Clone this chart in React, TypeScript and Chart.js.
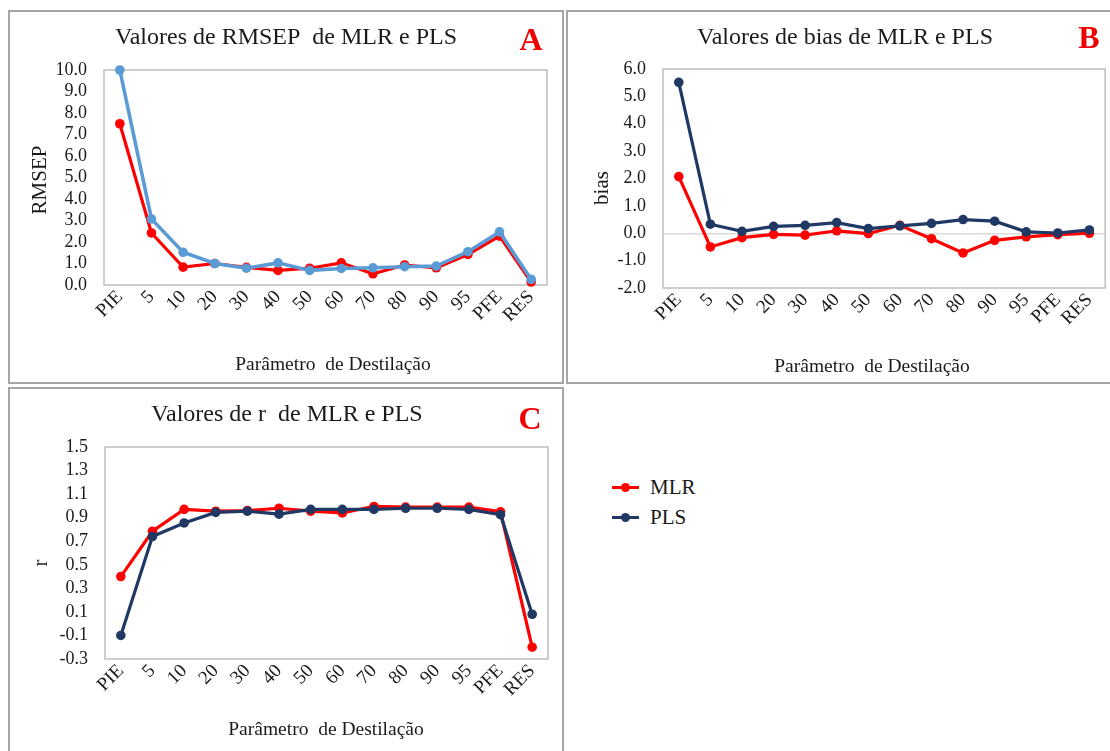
import React, { useEffect, useRef } from 'react';
import { Chart, registerables } from 'chart.js';

Chart.register(...registerables);

// Distillation parameters on the category axis
const CATEGORIES = ['PIE', '5', '10', '20', '30', '40', '50', '60', '70', '80', '90', '95', 'PFE', 'RES'];

// RMSEP per parameter
const RMSEP_MLR = [7.5, 2.42, 0.83, 1.0, 0.82, 0.68, 0.78, 1.03, 0.52, 0.93, 0.8, 1.42, 2.27, 0.14];
const RMSEP_PLS = [10.0, 3.07, 1.52, 1.0, 0.78, 1.03, 0.68, 0.77, 0.8, 0.85, 0.88, 1.55, 2.47, 0.26];

// bias per parameter
const BIAS_MLR = [2.07, -0.5, -0.16, -0.04, -0.07, 0.09, -0.01, 0.29, -0.2, -0.72, -0.26, -0.13, -0.05, 0.0];
const BIAS_PLS = [5.51, 0.33, 0.07, 0.25, 0.29, 0.39, 0.17, 0.27, 0.36, 0.5, 0.44, 0.05, 0.01, 0.12];

// correlation coefficient r per parameter
const R_MLR = [0.4, 0.785, 0.97, 0.955, 0.96, 0.98, 0.955, 0.94, 0.995, 0.99, 0.99, 0.99, 0.95, -0.2];
const R_PLS = [-0.1, 0.74, 0.855, 0.945, 0.955, 0.93, 0.97, 0.97, 0.97, 0.98, 0.98, 0.97, 0.925, 0.08];

// y-axis tick values
const RMSEP_TICKS = [0, 1, 2, 3, 4, 5, 6, 7, 8, 9, 10];
const BIAS_TICKS = [-2, -1, 0, 1, 2, 3, 4, 5, 6];
const R_TICKS = [-0.3, -0.1, 0.1, 0.3, 0.5, 0.7, 0.9, 1.1, 1.3, 1.5];

const SERIES_LABELS = ['MLR', 'PLS'];

const SERIF = '"Liberation Serif", "Times New Roman", serif';
const TEXT = '#1a1a1a';
const RED = '#ff0000';
const LIGHT_BLUE = '#5b9bd5';
const NAVY = '#203864';

// Draws the plot-area frame, chart title, panel letter and axis titles.
const panelDecor = {
  id: 'panelDecor',
  beforeDatasetsDraw(chart: any) {
    const { ctx, chartArea: a } = chart;
    ctx.save();
    ctx.strokeStyle = '#bfbfbf';
    ctx.lineWidth = 1.5;
    ctx.strokeRect(a.left, a.top, a.right - a.left, a.bottom - a.top);
    ctx.restore();
  },
  afterDraw(chart: any, _args: any, opts: any) {
    const { ctx } = chart;
    ctx.save();
    ctx.textAlign = 'center';
    ctx.textBaseline = 'middle';
    ctx.fillStyle = TEXT;
    ctx.font = `24px ${SERIF}`;
    ctx.fillText(opts.title, opts.titleX, opts.titleY);
    ctx.fillStyle = '#ee0000';
    ctx.font = `bold 32px ${SERIF}`;
    ctx.fillText(opts.letter, opts.letterX, opts.letterY);
    ctx.fillStyle = TEXT;
    ctx.font = `19.5px ${SERIF}`;
    ctx.fillText(opts.xTitle, opts.xTitleX, opts.xTitleY);
    ctx.font = `21px ${SERIF}`;
    ctx.translate(opts.yTitleX, opts.yTitleY);
    ctx.rotate(-Math.PI / 2);
    ctx.fillText(opts.yTitle, 0, 0);
    ctx.restore();
  },
};

type PanelProps = {
  left: number;
  top: number;
  width: number;
  height: number;
  mlr: number[];
  pls: number[];
  plsColor: string;
  plsWidth: number;
  ticks: number[];
  area: { left: number; top: number; right: number; bottom: number };
  decor: any;
};

function Panel(p: PanelProps) {
  const ref = useRef<HTMLCanvasElement | null>(null);
  useEffect(() => {
    if (!ref.current) return;
    const cw = p.width - 4;
    const ch = p.height - 4;
    const min = p.ticks[0];
    const max = p.ticks[p.ticks.length - 1];
    const chart = new Chart(ref.current, {
      type: 'line',
      data: {
        labels: CATEGORIES,
        datasets: [
          {
            label: SERIES_LABELS[0],
            data: p.mlr,
            borderColor: RED,
            backgroundColor: RED,
            borderWidth: 3.2,
            pointRadius: 4.8,
            pointBorderWidth: 0,
            order: 1,
            clip: false,
          },
          {
            label: SERIES_LABELS[1],
            data: p.pls,
            borderColor: p.plsColor,
            backgroundColor: p.plsColor,
            borderWidth: p.plsWidth,
            pointRadius: 4.8,
            pointBorderWidth: 0,
            order: 0,
            clip: false,
          },
        ],
      },
      options: {
        animation: false,
        responsive: false,
        layout: { padding: { top: p.area.top, right: cw - p.area.right, left: 0, bottom: 0 } },
        plugins: {
          legend: { display: false },
          tooltip: { enabled: false },
          title: { display: false },
          panelDecor: p.decor,
        } as any,
        scales: {
          x: {
            offset: true,
            grid: { display: false },
            border: { display: false },
            ticks: {
              minRotation: 45,
              maxRotation: 45,
              autoSkip: false,
              padding: -7,
              color: TEXT,
              font: { family: SERIF, size: 19 },
            },
            afterFit: (s: any) => {
              s.height = ch - p.area.bottom;
            },
          },
          y: {
            min,
            max,
            border: { display: false },
            grid: {
              drawTicks: false,
              lineWidth: 1.5,
              color: (c: any) => (c.tick && Math.abs(c.tick.value) < 1e-9 && min < 0 ? '#d9d9d9' : 'rgba(0,0,0,0)'),
            },
            ticks: {
              autoSkip: false,
              padding: 17,
              color: TEXT,
              font: { family: SERIF, size: 18 },
              callback: (v: any) => Number(v).toFixed(1),
            },
            afterBuildTicks: (s: any) => {
              s.ticks = p.ticks.map((v) => ({ value: v }));
            },
            afterFit: (s: any) => {
              s.width = p.area.left;
            },
          },
        },
      },
      plugins: [panelDecor],
    });
    return () => chart.destroy();
  }, []);
  const cw = p.width - 4;
  const ch = p.height - 4;
  return (
    <div
      style={{
        position: 'absolute',
        left: p.left,
        top: p.top,
        width: p.width,
        height: p.height,
        border: '2px solid #a6a6a6',
        boxSizing: 'border-box',
        background: '#fff',
      }}
    >
      <canvas ref={ref} width={cw} height={ch} style={{ display: 'block', width: cw, height: ch }} />
    </div>
  );
}

function LegendItem({ color, label, top }: { color: string; label: string; top: number }) {
  return (
    <div style={{ position: 'absolute', left: 612, top: top - 15, height: 30, display: 'flex', alignItems: 'center' }}>
      <div style={{ position: 'relative', width: 27, height: 30 }}>
        <div style={{ position: 'absolute', left: 0, top: 13.5, width: 27, height: 3, background: color }} />
        <div
          style={{ position: 'absolute', left: 9, top: 10.5, width: 9, height: 9, borderRadius: '50%', background: color }}
        />
      </div>
      <span style={{ marginLeft: 11, fontFamily: SERIF, fontSize: 21, color: TEXT, lineHeight: '30px' }}>{label}</span>
    </div>
  );
}

export default function App() {
  return (
    <div style={{ position: 'fixed', left: 0, top: 0, width: 1110, height: 751, background: '#fff', overflow: 'hidden' }}>
      <Panel
        left={8}
        top={10}
        width={556}
        height={374}
        mlr={RMSEP_MLR}
        pls={RMSEP_PLS}
        plsColor={LIGHT_BLUE}
        plsWidth={3.6}
        ticks={RMSEP_TICKS}
        area={{ left: 94, top: 58, right: 537, bottom: 273 }}
        decor={{
          title: 'Valores de RMSEP  de MLR e PLS',
          titleX: 276,
          titleY: 26,
          letter: 'A',
          letterX: 521,
          letterY: 30,
          yTitle: 'RMSEP',
          yTitleX: 30,
          yTitleY: 168,
          xTitle: 'Parâmetro  de Destilação',
          xTitleX: 323,
          xTitleY: 353,
        }}
      />
      <Panel
        left={566}
        top={10}
        width={546}
        height={374}
        mlr={BIAS_MLR}
        pls={BIAS_PLS}
        plsColor={NAVY}
        plsWidth={3.2}
        ticks={BIAS_TICKS}
        area={{ left: 95, top: 57, right: 540, bottom: 276 }}
        decor={{
          title: 'Valores de bias de MLR e PLS',
          titleX: 277,
          titleY: 26,
          letter: 'B',
          letterX: 521,
          letterY: 28,
          yTitle: 'bias',
          yTitleX: 34,
          yTitleY: 176,
          xTitle: 'Parâmetro  de Destilação',
          xTitleX: 304,
          xTitleY: 355,
        }}
      />
      <Panel
        left={8}
        top={387}
        width={556}
        height={366}
        mlr={R_MLR}
        pls={R_PLS}
        plsColor={NAVY}
        plsWidth={3.2}
        ticks={R_TICKS}
        area={{ left: 95, top: 58, right: 538, bottom: 270 }}
        decor={{
          title: 'Valores de r  de MLR e PLS',
          titleX: 277,
          titleY: 26,
          letter: 'C',
          letterX: 520,
          letterY: 32,
          yTitle: 'r',
          yTitleX: 31,
          yTitleY: 174,
          xTitle: 'Parâmetro  de Destilação',
          xTitleX: 316,
          xTitleY: 341,
        }}
      />
      <LegendItem color={RED} label={SERIES_LABELS[0]} top={487} />
      <LegendItem color={NAVY} label={SERIES_LABELS[1]} top={517} />
    </div>
  );
}
